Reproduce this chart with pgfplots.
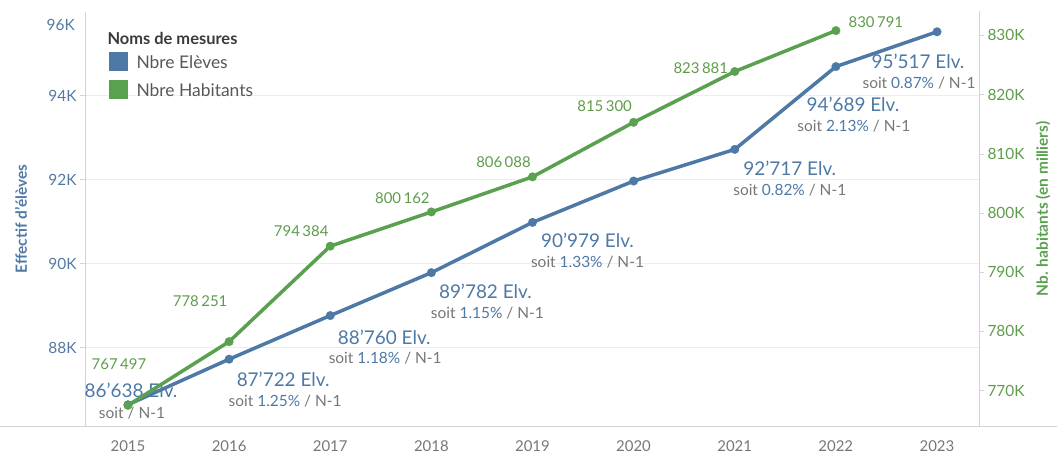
\documentclass[border=0pt]{standalone}
\usepackage{fontspec}
\setmainfont{Lato}
\usepackage{pgfplots}
\pgfplotsset{compat=1.18}

\definecolor{cblue}{HTML}{4E79A7}
\definecolor{cgreen}{HTML}{59A14F}
\definecolor{tgreen}{HTML}{5E9C4A}
\definecolor{tgrey}{HTML}{767676}
\definecolor{axgrey}{HTML}{D4D4D4}
\definecolor{gridgrey}{HTML}{EDEDED}
\definecolor{tdark}{HTML}{3A3A3A}

\newcommand{\fs}[1]{\fontsize{#1}{#1}\selectfont}
% blue label: year, value, dx, dy(down), big text, small text, dx2, dy2
\newcommand{\blab}[8]{%
  \node[text=cblue, font=\fs{19}, xshift=#3bp, yshift=-#4bp] at (axis cs:#1,#2) {#5};
  \node[text=tgrey, font=\fs{15.5}, xshift=#7bp, yshift=-#8bp] at (axis cs:#1,#2) {#6};}
\newcommand{\glab}[5]{%
  \node[text=tgreen, font=\fs{15}, xshift=#3bp, yshift=#4bp] at (axis cs:#1,#2) {#5};}
\newcommand{\pct}[1]{soit \textcolor{cblue}{#1\%} / N-1}

\begin{document}
\begin{tikzpicture}

\begin{axis}[
    at={(85bp,29bp)}, anchor=south west,
    width=894bp, height=414.5bp, scale only axis,
    xmin=2014.575, xmax=2023.415,
    ymin=86131, ymax=96000,
    scaled x ticks=false, scaled y ticks=false,
    axis x line*=bottom, axis y line*=left,
    axis line style={draw=axgrey, line width=0.8bp},
    xtick={2015,...,2023},
    xticklabels={2015,2016,2017,2018,2019,2020,2021,2022,2023},
    x tick label style={font=\fs{15}, text=tgrey, yshift=-6bp},
    xtick style={draw=none},
    ytick={88000,90000,92000,94000},
    yticklabels={88K,90K,92K,94K},
    y tick label style={font=\fs{15.5}, text=cblue!85!gray},
    ytick style={draw=axgrey},
    tick align=outside, major tick length=5bp,
    ymajorgrids, grid style={draw=gridgrey, line width=0.8bp},
    clip=false,
]
\addplot[cblue, line width=3.5bp, mark=*, mark size=4.3bp,
    mark options={fill=cblue, draw=cblue, line width=0.3bp}] coordinates {
    (2015,86638) (2016,87722) (2017,88760) (2018,89782) (2019,90979)
    (2020,91963) (2021,92717) (2022,94689) (2023,95517)
};
% top tick label, set lower as in the reference
\node[anchor=east, font=\fs{15.5}, text=cblue!85!gray, inner sep=0pt]
    at (axis cs:2014.575,96000) [xshift=-10bp, yshift=-13bp] {96K};
\blab{2015}{86638}{3}{-14}{86’638 Elv.}{soit / N-1}{4}{8}
\blab{2016}{87722}{54}{20}{87’722 Elv.}{\pct{1.25}}{56}{42}
\blab{2017}{88760}{54}{22}{88’760 Elv.}{\pct{1.18}}{55}{43}
\blab{2018}{89782}{54}{19}{89’782 Elv.}{\pct{1.15}}{56}{41}
\blab{2019}{90979}{55}{18}{90’979 Elv.}{\pct{1.33}}{55}{40}
\blab{2021}{92717}{55}{19}{92’717 Elv.}{\pct{0.82}}{55}{41}
\blab{2022}{94689}{17}{38}{94’689 Elv.}{\pct{2.13}}{18}{60}
\blab{2023}{95517}{-19}{30}{95’517 Elv.}{\pct{0.87}}{-18}{51}
\end{axis}

\begin{axis}[
    at={(85bp,29bp)}, anchor=south west,
    width=894bp, height=414.5bp, scale only axis,
    xmin=2014.575, xmax=2023.415,
    ymin=764003, ymax=834020,
    scaled x ticks=false, scaled y ticks=false,
    hide x axis, axis y line*=right,
    axis line style={draw=axgrey, line width=0.8bp},
    ytick={770000,780000,790000,800000,810000,820000,830000},
    yticklabels={770K,780K,790K,800K,810K,820K,830K},
    y tick label style={font=\fs{15.5}, text=tgreen},
    ytick style={draw=axgrey},
    tick align=outside, major tick length=5bp,
    clip=false,
]
\addplot[cgreen, line width=3.5bp, mark=*, mark size=4.3bp,
    mark options={fill=cgreen, draw=cgreen, line width=0.3bp}] coordinates {
    (2015,767497) (2016,778251) (2017,794384) (2018,800162)
    (2019,806088) (2020,815300) (2021,823881) (2022,830791)
};
\glab{2015}{767497}{-9}{41}{767\,497}
\glab{2016}{778251}{-29}{41}{778\,251}
\glab{2017}{794384}{-29}{15}{794\,384}
\glab{2018}{800162}{-29}{14}{800\,162}
\glab{2019}{806088}{-29}{15}{806\,088}
\glab{2020}{815300}{-29}{16}{815\,300}
\glab{2021}{823881}{-34}{3}{823\,881}
\glab{2022}{830791}{40}{8}{830\,791}
\end{axis}

% bottom rule across the full width
\draw[axgrey, line width=0.8bp] (0bp,29bp) -- (1057bp,29bp);

% legend
\node[anchor=west, font=\fs{16.5}\bfseries, text=tdark] at (104bp,417bp) {Noms de mesures};
\fill[cblue] (109bp,384bp) rectangle (128bp,403bp);
\node[anchor=west, font=\fs{17.5}, text=tdark!85] at (133bp,393bp) {Nbre Elèves};
\fill[cgreen] (109bp,356bp) rectangle (128bp,375bp);
\node[anchor=west, font=\fs{17.5}, text=tdark!85] at (133bp,365bp) {Nbre Habitants};

% axis titles
\node[rotate=90, font=\fs{15.5}\bfseries, text=cblue] at (21bp,236bp) {Effectif d’élèves};
\node[rotate=90, font=\fs{15.5}\bfseries, text=cgreen] at (1043bp,246bp) {Nb. habitants (en milliers)};

\pgfresetboundingbox
\path[use as bounding box] (0bp,0bp) rectangle (1057bp,455bp);
\end{tikzpicture}
\end{document}
